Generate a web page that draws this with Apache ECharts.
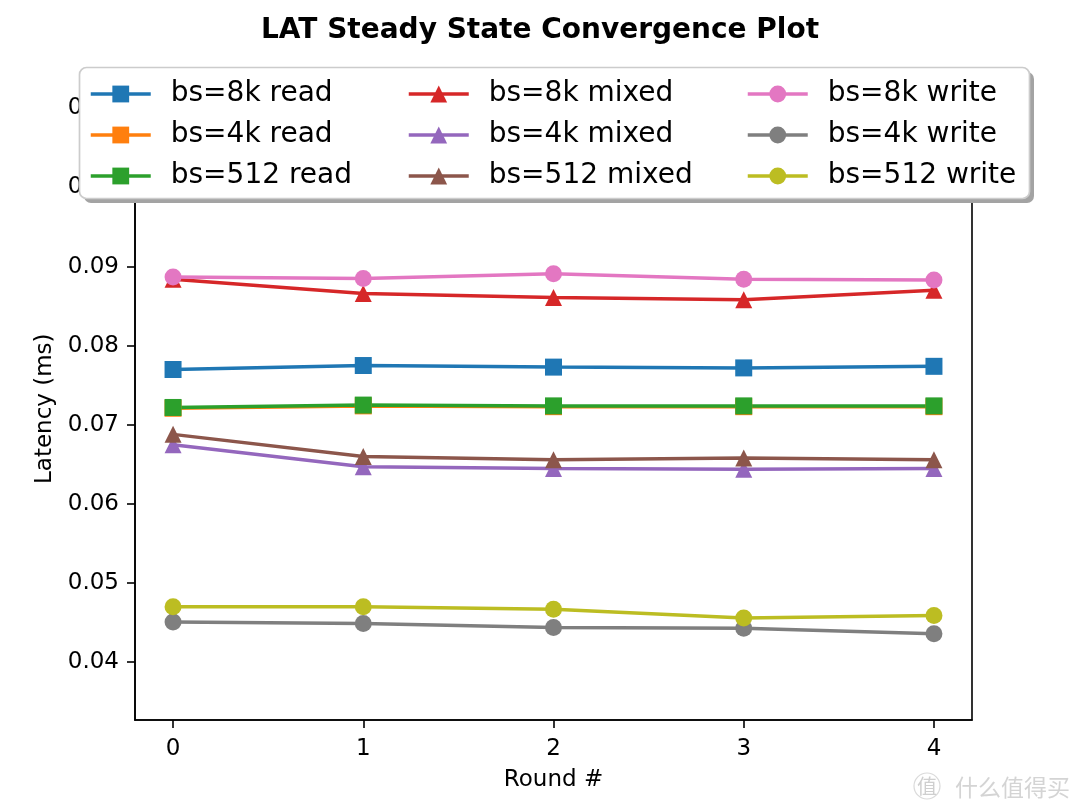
<!DOCTYPE html>
<html>
<head>
<meta charset="utf-8">
<script src="https://cdn.jsdelivr.net/npm/echarts@6/dist/echarts.min.js"></script>
<style>html,body{margin:0;padding:0;background:#fff}#c{width:1080px;height:810px}</style>
</head>
<body>
<div id="c"></div>
<script>
// ---- data ----
const rounds = [0, 1, 2, 3, 4];
const xTicks = [0, 1, 2, 3, 4];
const yTicks = [0.04, 0.05, 0.06, 0.07, 0.08, 0.09, 0.10, 0.11];

const read8k   = [0.0770, 0.0775, 0.0773, 0.0772, 0.0774];
const read4k   = [0.0721, 0.0724, 0.0723, 0.0723, 0.0723];
const read512  = [0.0722, 0.0725, 0.0724, 0.0724, 0.0724];
const mixed8k  = [0.0884, 0.0866, 0.0861, 0.0858, 0.0870];
const mixed4k  = [0.0675, 0.0647, 0.0645, 0.0644, 0.0645];
const mixed512 = [0.0688, 0.0660, 0.0656, 0.0658, 0.0656];
const write8k  = [0.0887, 0.0885, 0.0891, 0.0884, 0.0883];
const write4k  = [0.0451, 0.0449, 0.0444, 0.0443, 0.0436];
const write512 = [0.0470, 0.0470, 0.0467, 0.0456, 0.0459];

const seriesDefs = [
  ['bs=8k read', read8k, '#1f77b4', 'rect'],
  ['bs=4k read', read4k, '#ff7f0e', 'rect'],
  ['bs=512 read', read512, '#2ca02c', 'rect'],
  ['bs=8k mixed', mixed8k, '#d62728', 'triangle'],
  ['bs=4k mixed', mixed4k, '#9467bd', 'triangle'],
  ['bs=512 mixed', mixed512, '#8c564b', 'triangle'],
  ['bs=8k write', write8k, '#e377c2', 'circle'],
  ['bs=4k write', write4k, '#7f7f7f', 'circle'],
  ['bs=512 write', write512, '#bcbd22', 'circle']
];

const allVals = [].concat(read8k, read4k, read512, mixed8k, mixed4k, mixed512, write8k, write4k, write512);
const yMin = Math.min.apply(null, allVals) * 0.75;
const yMax = Math.max.apply(null, allVals) * 1.25;

const FONT = 'DejaVu Sans';
const chart = echarts.init(document.getElementById('c'), null, {renderer: 'canvas'});

const legendBase = {
  orient: 'vertical',
  top: 80,
  padding: 0,
  itemWidth: 60,
  itemHeight: 21,
  itemGap: 13,
  selectedMode: false,
  z: 5,
  lineStyle: {width: 3.5},
  textStyle: {fontFamily: FONT, fontSize: 28, color: '#000', lineHeight: 28, padding: [0, 0, 0, 15]}
};

const option = {
  animation: false,
  backgroundColor: '#fff',
  title: {
    text: 'LAT Steady State Convergence Plot',
    left: 'center',
    top: 12,
    textStyle: {fontFamily: FONT, fontSize: 28, fontWeight: 'bold', color: '#000'}
  },
  grid: {left: 135, right: 108, top: 97.5, bottom: 90, show: true, borderColor: '#000', borderWidth: 1.6, backgroundColor: 'transparent'},
  legend: [
    Object.assign({}, legendBase, {left: 89, data: seriesDefs.slice(0, 3).map(d => d[0])}),
    Object.assign({}, legendBase, {left: 407, data: seriesDefs.slice(3, 6).map(d => d[0])}),
    Object.assign({}, legendBase, {left: 746, data: seriesDefs.slice(6, 9).map(d => d[0])})
  ],
  xAxis: {
    type: 'value',
    min: -0.2,
    max: 4.2,
    name: 'Round #',
    nameLocation: 'middle',
    nameGap: 49,
    nameTextStyle: {fontFamily: FONT, fontSize: 23, color: '#000'},
    axisLine: {show: true, onZero: false, lineStyle: {color: '#000', width: 1.6}},
    axisTick: {show: true, length: 8, lineStyle: {color: '#000', width: 1.6}, customValues: xTicks},
    axisLabel: {fontFamily: FONT, fontSize: 23, color: '#000', margin: 18, customValues: xTicks, formatter: v => String(v)},
    splitLine: {show: false}
  },
  yAxis: {
    type: 'value',
    min: yMin,
    max: yMax,
    name: 'Latency (ms)',
    nameLocation: 'middle',
    nameGap: 78,
    nameTextStyle: {fontFamily: FONT, fontSize: 23, color: '#000'},
    axisLine: {show: true, onZero: false, lineStyle: {color: '#000', width: 1.6}},
    axisTick: {show: true, length: 8, lineStyle: {color: '#000', width: 1.6}, customValues: yTicks},
    axisLabel: {fontFamily: FONT, fontSize: 23, color: '#000', margin: 16, customValues: yTicks, formatter: v => v.toFixed(2)},
    splitLine: {show: false}
  },
  graphic: [
    {type: 'rect', z: 3, shape: {x: 84, y: 72, width: 950, height: 131, r: 7}, style: {fill: '#a3a3a3'}, silent: true},
    {type: 'rect', z: 3.5, shape: {x: 79.5, y: 67.5, width: 950, height: 131, r: 7}, style: {fill: '#fff', stroke: '#cccccc', lineWidth: 1.7}, silent: true},
    {type: 'circle', z: 1, shape: {cx: 927, cy: 786, r: 13}, style: {fill: 'none', stroke: '#dadada', lineWidth: 1.2}, silent: true},
    {type: 'text', z: 1, x: 927, y: 786, style: {text: '值', fill: '#cfcfcf', font: '20px "Noto Sans CJK SC"', align: 'center', verticalAlign: 'middle'}, silent: true},
    {type: 'text', z: 1, x: 955, y: 787, style: {text: '什么值得买', fill: '#d4d4d4', font: '23px "Noto Sans CJK SC"', align: 'left', verticalAlign: 'middle'}, silent: true}
  ],
  series: seriesDefs.map(d => ({
    name: d[0],
    type: 'line',
    data: rounds.map((r, i) => [r, d[1][i]]),
    symbol: d[3],
    symbolSize: 17,
    showAllSymbol: true,
    lineStyle: {color: d[2], width: 3.5},
    itemStyle: {color: d[2], borderWidth: 0},
    emphasis: {disabled: true}
  }))
};
chart.setOption(option);
</script>
</body>
</html>
